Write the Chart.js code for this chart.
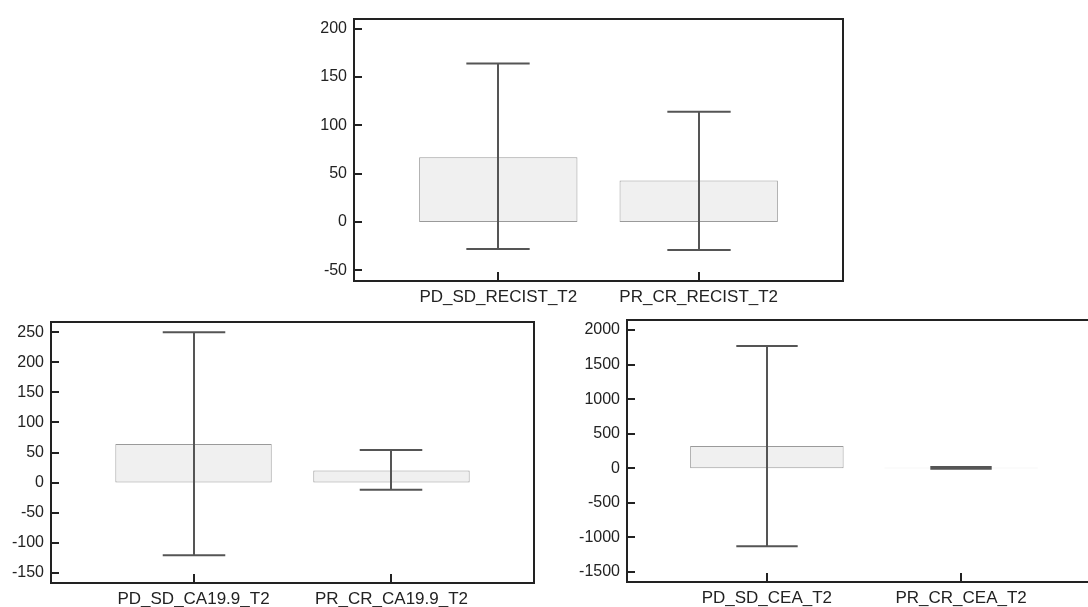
<!DOCTYPE html>
<html>
<head>
<meta charset="utf-8">
<script src="https://cdn.jsdelivr.net/npm/chart.js@4.4.0/dist/chart.umd.min.js"></script>
<style>
  html, body { margin:0; padding:0; background:#fff; overflow:hidden; width:1088px; height:607px; }
  .box { position:absolute; }
</style>
</head>
<body>
<div class="box" style="left:290px;top:15px;width:557px;height:294px"><canvas id="recist"></canvas></div>
<div class="box" style="left:0px;top:318px;width:538px;height:289px"><canvas id="ca199"></canvas></div>
<div class="box" style="left:552px;top:316px;width:553px;height:291px"><canvas id="cea"></canvas></div>
<script>
// RECIST T2
var recistLabels = ["PD_SD_RECIST_T2", "PR_CR_RECIST_T2"];
var recistMean = [67, 43];
var recistLow = [-28, -29];
var recistHigh = [164, 114];
var recistTicks = [-50, 0, 50, 100, 150, 200];

// CA19.9 T2
var caLabels = ["PD_SD_CA19.9_T2", "PR_CR_CA19.9_T2"];
var caMean = [64, 20];
var caLow = [-121, -12];
var caHigh = [250, 54];
var caTicks = [-150, -100, -50, 0, 50, 100, 150, 200, 250];

// CEA T2
var ceaLabels = ["PD_SD_CEA_T2", "PR_CR_CEA_T2"];
var ceaMean = [323, 8];
var ceaLow = [-1128, -5];
var ceaHigh = [1769, 20];
var ceaTicks = [-1500, -1000, -500, 0, 500, 1000, 1500, 2000];

var FONT = "'Liberation Sans', Arial, sans-serif";

// error bars + frame with inner tick marks
var whiskerPlugin = {
  id: 'whiskers',
  afterDatasetsDraw: function(chart, args, opts) {
    var ctx = chart.ctx, xs = chart.scales.x, ys = chart.scales.y;
    var meta = chart.getDatasetMeta(0);
    var a = chart.chartArea;
    ctx.save();
    ctx.strokeStyle = '#555';
    ctx.lineWidth = 2;
    opts.low.forEach(function(lo, i){
      var x = Math.round(xs.getPixelForValue(i));
      var half = meta.data[i].width * 0.2;
      var yl = ys.getPixelForValue(lo), yh = ys.getPixelForValue(opts.high[i]);
      ctx.beginPath();
      ctx.moveTo(x, yh); ctx.lineTo(x, yl);
      ctx.moveTo(x - half, yh); ctx.lineTo(x + half, yh);
      ctx.moveTo(x - half, yl); ctx.lineTo(x + half, yl);
      ctx.stroke();
    });
    ctx.strokeStyle = '#222';
    ctx.strokeRect(a.left, a.top, a.right - a.left, a.bottom - a.top);
    ctx.beginPath();
    ys.ticks.forEach(function(t){
      var y = Math.round(ys.getPixelForValue(t.value));
      ctx.moveTo(a.left, y); ctx.lineTo(a.left + 8, y);
    });
    xs.ticks.forEach(function(t){
      var x = Math.round(xs.getPixelForValue(t.value));
      ctx.moveTo(x, a.bottom); ctx.lineTo(x, a.bottom - 9);
    });
    ctx.stroke();
    ctx.restore();
  }
};

function makeChart(id, labels, mean, low, high, ticks, yMin, yMax, yw, xh) {
  return new Chart(document.getElementById(id), {
    type: 'bar',
    data: {
      datasets: [{
        data: labels.map(function(l, i){ return { x: i, y: mean[i] }; }),
        backgroundColor: '#f0f0f0',
        borderColor: '#9a9a9a',
        // very flat bars show no outline in the original
        borderWidth: function(c){
          var ys = c.chart.scales.y;
          if (!ys || !c.raw) return 1;
          return Math.abs(ys.getPixelForValue(c.raw.y) - ys.getPixelForValue(0)) < 3 ? 0 : 1;
        },
        borderSkipped: false,
        barPercentage: 0.79,
        categoryPercentage: 1
      }]
    },
    options: {
      responsive: true,
      maintainAspectRatio: false,
      animation: false,
      layout: { padding: { top: 4, right: 4, left: 0, bottom: 0 } },
      plugins: {
        legend: { display: false },
        tooltip: { enabled: false },
        whiskers: { low: low, high: high }
      },
      scales: {
        x: {
          type: 'linear',
          offset: false,
          min: -0.72, max: 1.72,
          afterBuildTicks: function(s){ s.ticks = labels.map(function(l, i){ return { value: i }; }); },
          afterFit: function(s){ s.height = xh; s.paddingLeft = 0; s.paddingRight = 0; },
          grid: { display: false, drawTicks: false, offset: false },
          border: { display: false },
          ticks: {
            autoSkip: false, maxRotation: 0, padding: 6,
            color: '#222', font: { family: FONT, size: 17 },
            callback: function(v){ return labels[v]; }
          }
        },
        y: {
          min: yMin, max: yMax,
          afterBuildTicks: function(s){ s.ticks = ticks.map(function(v){ return { value: v }; }); },
          afterFit: function(s){ s.width = yw; s.paddingTop = 0; s.paddingBottom = 0; },
          grid: { display: false, drawTicks: false },
          border: { display: false },
          ticks: {
            padding: 7,
            color: '#222', font: { family: FONT, size: 16 },
            callback: function(v){ return String(v); }
          }
        }
      }
    },
    plugins: [whiskerPlugin]
  });
}

makeChart('recist', recistLabels, recistMean, recistLow, recistHigh, recistTicks, -61, 210, 64, 28);
makeChart('ca199', caLabels, caMean, caLow, caHigh, caTicks, -167, 267, 51, 24);
makeChart('cea', ceaLabels, ceaMean, ceaLow, ceaHigh, ceaTicks, -1645, 2145, 75, 25);
</script>
</body>
</html>
